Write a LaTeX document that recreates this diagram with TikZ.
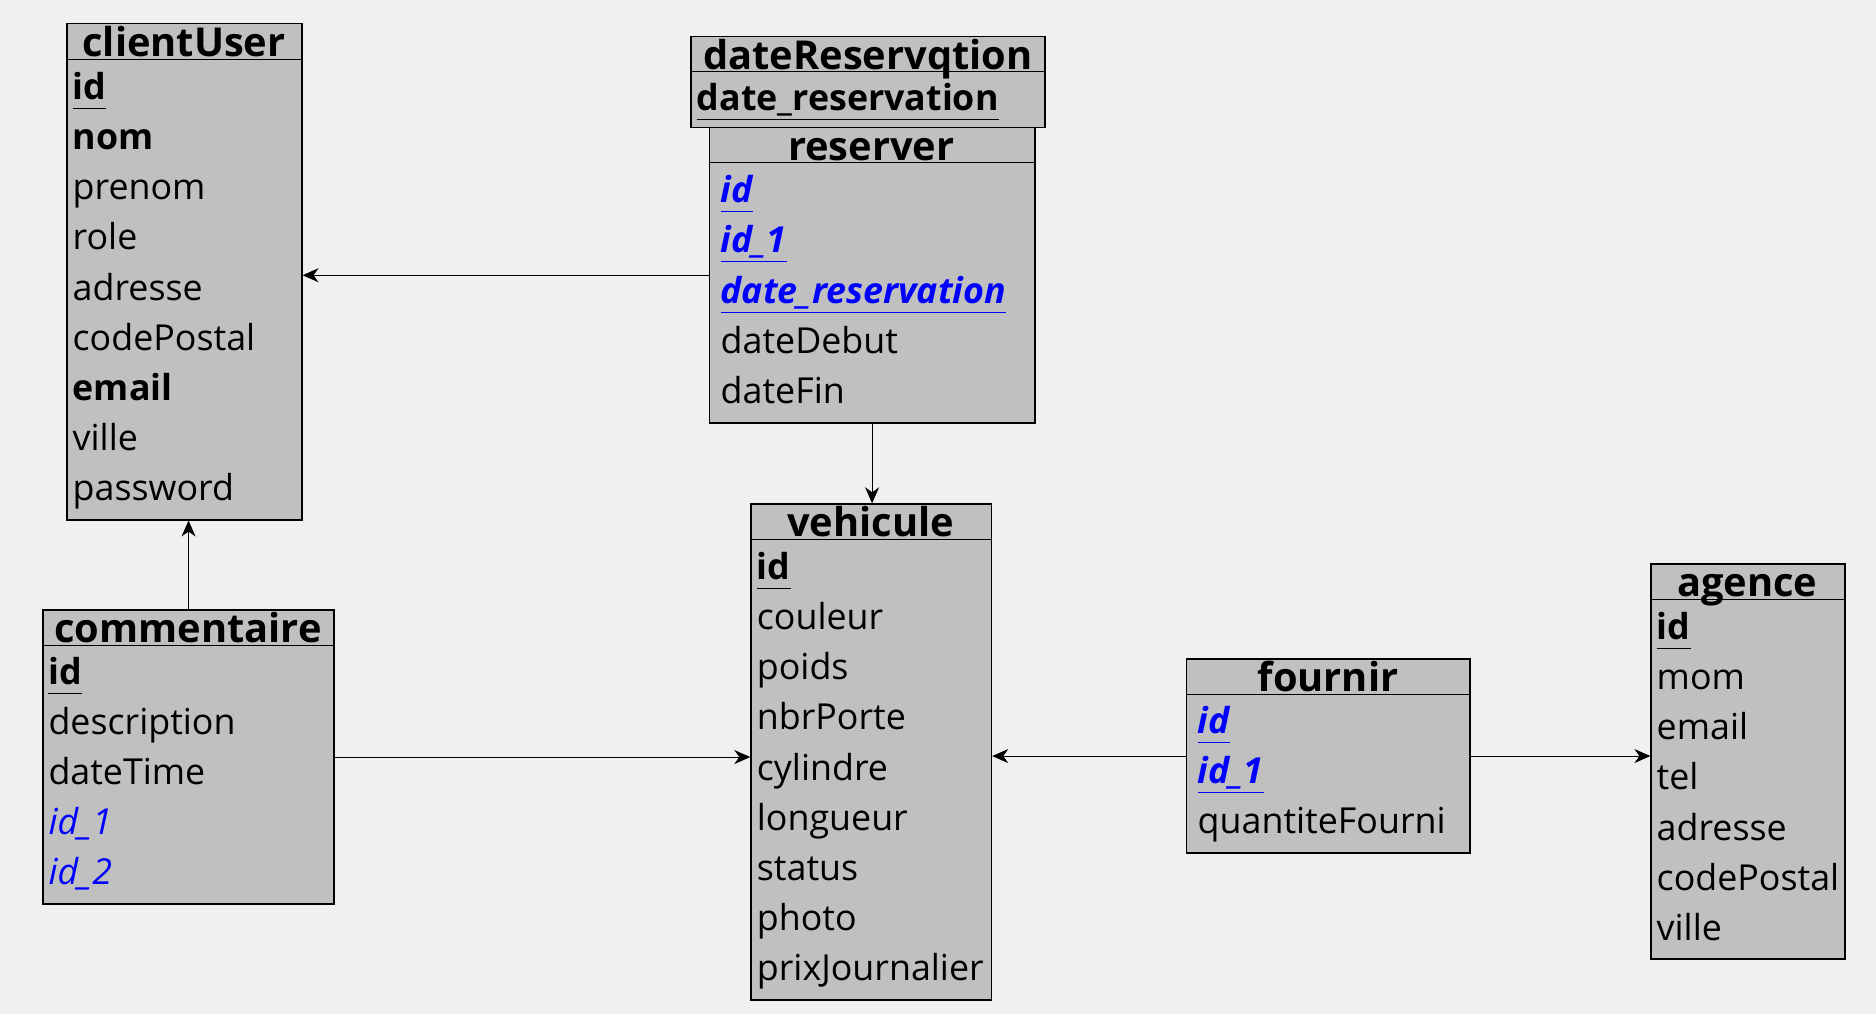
\documentclass[tikz,border=0pt]{standalone}
\usepackage{fontspec}
\setmainfont{Open Sans}
\usetikzlibrary{arrows.meta,calc}
\definecolor{bgc}{HTML}{F0F0F0}
\definecolor{boxc}{HTML}{C0C0C0}
\definecolor{fkblue}{HTML}{0000FF}
\newcommand\attrfont{\fontsize{35.8}{42}\selectfont}
\newcommand\ttlfont{\fontsize{39.8}{46}\selectfont\bfseries}
% plain attribute: style, name, x, y, text
\newcommand\att[5]{\node[attr,#1] (#2) at (#3,#4) {#5};}
% underlined attribute
\newcommand\uatt[6]{\node[attr,#1] (#2) at (#3,#4) {#6};
  \draw[line width=1pt,#5] ($(#2.base west)+(0,9)$) -- ($(#2.base east)+(0,9)$);}
\begin{document}
\begin{tikzpicture}[x=1pt,y=-1pt,
  tbl/.style={draw=black,line width=1.5pt,fill=boxc,inner sep=0pt,anchor=north west},
  sep/.style={line width=1pt},
  ttl/.style={inner sep=0pt,anchor=base,font=\ttlfont},
  attr/.style={inner sep=0pt,anchor=base west,font=\attrfont},
  pkb/.style={font=\attrfont\bfseries},
  fkpk/.style={font=\attrfont\bfseries\itshape,text=fkblue},
  fki/.style={font=\attrfont\itshape,text=fkblue},
  conn/.style={line width=1pt,-{Stealth[length=16pt,width=14pt,inset=5pt]}}]
\fill[bgc] (0,0) rectangle (1876,1014);
\useasboundingbox (0,0) rectangle (1876,1014);

% ---------------- clientUser
\node[tbl,minimum width=235pt,minimum height=496pt] (cu) at (66,23) {};
\draw[sep] (cu.west |- 0,59.3) -- (cu.east |- 0,59.3);
\node[ttl] (cut) at (184,56.8) {clientUser};
\uatt{pkb}{cu1}{72.5}{99.3}{black}{id}
\att{pkb}{cu2}{72.5}{149.5}{nom}
\att{}{cu3}{72.5}{199.7}{prenom}
\att{}{cu4}{72.5}{249.9}{role}
\att{}{cu5}{72.5}{300.1}{adresse}
\att{}{cu6}{72.5}{350.3}{codePostal}
\att{pkb}{cu7}{72.5}{400.5}{email}
\att{}{cu8}{72.5}{450.7}{ville}
\att{}{cu9}{72.5}{500.9}{password}

% ---------------- reserver
\node[tbl,minimum width=325.3pt,minimum height=295pt] (res) at (708.7,127) {};
\draw[sep] (res.west |- 0,162.7) -- (res.east |- 0,162.7);
\node[ttl] (rest) at (871.3,160.2) {reserver};
\uatt{fkpk}{re1}{720.5}{202.7}{fkblue}{id}
\uatt{fkpk}{re2}{720.5}{252.9}{fkblue}{id\_1}
\uatt{fkpk}{re3}{720.5}{303.1}{fkblue}{date\_reservation}
\att{}{re4}{720.5}{353.3}{dateDebut}
\att{}{re5}{720.5}{403.5}{dateFin}

% ---------------- dateReservqtion
\node[tbl,minimum width=354pt,minimum height=91.3pt] (dr) at (690.3,35.7) {};
\draw[sep] (dr.west |- 0,71.7) -- (dr.east |- 0,71.7);
\node[ttl] (drt) at (868,69.2) {dateReservqtion};
\uatt{pkb}{dr1}{696.7}{111}{black}{date\_reservation}

% ---------------- vehicule
\node[tbl,minimum width=240.4pt,minimum height=495.7pt] (veh) at (750.3,503.3) {};
\draw[sep] (veh.west |- 0,539.3) -- (veh.east |- 0,539.3);
\node[ttl] (veht) at (870.5,536.8) {vehicule};
\uatt{pkb}{ve1}{756.7}{579.3}{black}{id}
\att{}{ve2}{756.7}{629.5}{couleur}
\att{}{ve3}{756.7}{679.7}{poids}
\att{}{ve4}{756.7}{729.9}{nbrPorte}
\att{}{ve5}{756.7}{780.1}{cylindre}
\att{}{ve6}{756.7}{830.3}{longueur}
\att{}{ve7}{756.7}{880.5}{status}
\att{}{ve8}{756.7}{930.7}{photo}
\att{}{ve9}{756.7}{980.9}{prixJournalier}

% ---------------- commentaire
\node[tbl,minimum width=291pt,minimum height=294pt] (com) at (42.3,609.3) {};
\draw[sep] (com.west |- 0,645.3) -- (com.east |- 0,645.3);
\node[ttl] (comt) at (188,642.8) {commentaire};
\uatt{pkb}{co1}{48.3}{684}{black}{id}
\att{}{co2}{48.3}{734.2}{description}
\att{}{co3}{48.3}{784.4}{dateTime}
\att{fki}{co4}{48.3}{834.6}{id\_1}
\att{fki}{co5}{48.3}{884.8}{id\_2}

% ---------------- fournir
\node[tbl,minimum width=283.5pt,minimum height=194pt] (four) at (1185.6,658.3) {};
\draw[sep] (four.west |- 0,694.3) -- (four.east |- 0,694.3);
\node[ttl] (fourt) at (1328,691.8) {fournir};
\uatt{fkpk}{fo1}{1197.5}{733.3}{fkblue}{id}
\uatt{fkpk}{fo2}{1197.5}{783.5}{fkblue}{id\_1}
\att{}{fo3}{1197.5}{833.7}{quantiteFourni}

% ---------------- agence
\node[tbl,minimum width=193.7pt,minimum height=395pt] (ag) at (1650.4,563.3) {};
\draw[sep] (ag.west |- 0,599.3) -- (ag.east |- 0,599.3);
\node[ttl] (agt) at (1747.2,596.8) {agence};
\uatt{pkb}{ag1}{1656.5}{639.3}{black}{id}
\att{}{ag2}{1656.5}{689.5}{mom}
\att{}{ag3}{1656.5}{739.7}{email}
\att{}{ag4}{1656.5}{789.9}{tel}
\att{}{ag5}{1656.5}{840.1}{adresse}
\att{}{ag6}{1656.5}{890.3}{codePostal}
\att{}{ag7}{1656.5}{940.5}{ville}

% ---------------- connectors
\draw[conn] (res.west) -- (cu.east |- res.west);
\draw[conn] (res.south) -- (veh.north -| res.south);
\draw[conn] (com.north) -- (cu.south -| com.north);
\draw[conn] (com.east) -- (veh.west |- com.east);
\draw[conn] (four.west) -- (veh.east |- four.west);
\draw[conn] (four.east) -- (ag.west |- four.east);
\end{tikzpicture}
\end{document}
